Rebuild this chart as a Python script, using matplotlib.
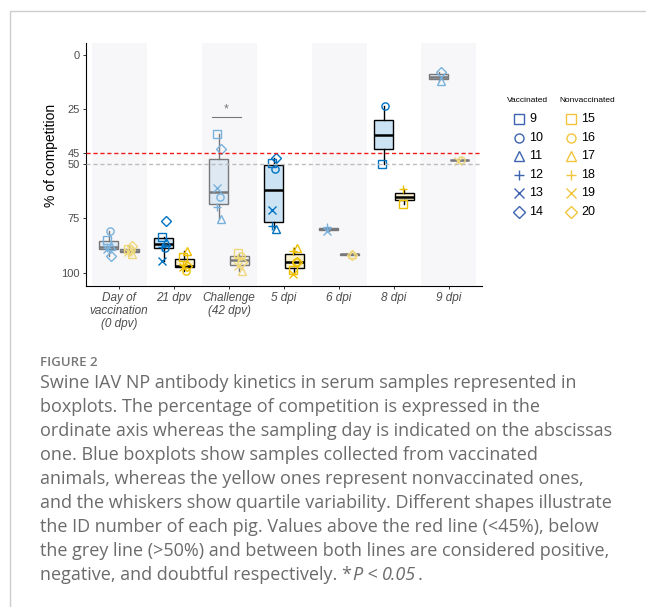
import numpy as np
import matplotlib
matplotlib.use("Agg")
import matplotlib.pyplot as plt
from matplotlib.lines import Line2D
from matplotlib.patches import Rectangle

nan = np.nan

# Sampling days (x categories)
days = ["Day of\nvaccination\n(0 dpv)", "21 dpv", "Challenge\n(42 dpv)",
        "5 dpi", "6 dpi", "8 dpi", "9 dpi"]

# Pig IDs and their shapes
vacc_ids = [9, 10, 11, 12, 13, 14]
nonvacc_ids = [15, 16, 17, 18, 19, 20]
shapes = ["s", "o", "^", "+", "x", "D"]

# % of competition per day, one value per pig (in the order of the id lists)
vacc_0dpv = [84.8, 80.7, 87.8, 88.6, 89.0, 92.2]
vacc_21dpv = [83.7, 88.6, 85.7, 88.3, 94.5, 76.3]
vacc_42dpv = [36.1, 65.1, 75.3, 69.7, 61.0, 43.2]
vacc_5dpi = [49.8, 52.5, 80.0, 78.5, 71.2, 47.5]
vacc_6dpi = [nan, nan, nan, 78.8, 80.8, nan]
vacc_8dpi = [50.0, 23.4, nan, nan, nan, nan]
vacc_9dpi = [nan, nan, 11.8, nan, nan, 8.0]

nonvacc_0dpv = [88.9, 89.6, 91.5, 90.8, 90.4, 87.7]
nonvacc_21dpv = [92.7, 99.1, 90.0, 96.6, 97.3, 97.1]
nonvacc_42dpv = [91.0, 92.3, 99.0, 93.3, 97.0, 95.0]
nonvacc_5dpi = [98.8, 94.9, 88.5, 90.0, 100.5, 95.2]
nonvacc_6dpi = [nan, nan, 91.3, nan, nan, 91.8]
nonvacc_8dpi = [68.4, nan, nan, 61.7, nan, nan]
nonvacc_9dpi = [nan, 48.0, nan, nan, 48.6, nan]

vaccinated = [vacc_0dpv, vacc_21dpv, vacc_42dpv, vacc_5dpi,
              vacc_6dpi, vacc_8dpi, vacc_9dpi]
nonvaccinated = [nonvacc_0dpv, nonvacc_21dpv, nonvacc_42dpv, nonvacc_5dpi,
                 nonvacc_6dpi, nonvacc_8dpi, nonvacc_9dpi]

positive_cutoff = 45
negative_cutoff = 50

BLUE = "#0073C2"
YELLOW = "#EFC000"
BLUE_FILL = "#cce3f3"
YELLOW_FILL = "#fcf2cc"
LEG_BLUE = "#3d64b0"
LEG_YELLOW = "#f2c53d"

W, H = 646, 607
plt.rcParams["font.family"] = ["Liberation Sans", "DejaVu Sans"]

fig = plt.figure(figsize=(W / 100, H / 100), dpi=100)


def fx(x):
    return x / W


def fy(y):
    return 1 - y / H


ax = fig.add_axes([fx(86), fy(286), (482 - 86) / W, (286 - 42.7) / H])

jitter = [-0.03, 0.02, 0.04, -0.03, -0.02, 0.05]
dodge = 0.19
box_w = 0.36

for i, (vg, ng) in enumerate(zip(vaccinated, nonvaccinated)):
    for vals, off, col, fill in [(vg, -dodge, BLUE, BLUE_FILL),
                                 (ng, dodge, YELLOW, YELLOW_FILL)]:
        arr = np.array(vals, dtype=float)
        ok = ~np.isnan(arr)
        ax.boxplot(arr[ok], positions=[i + off], widths=box_w,
                   showfliers=False, showcaps=False, patch_artist=True,
                   whis=1.5, manage_ticks=False,
                   boxprops=dict(facecolor=fill, edgecolor="black", linewidth=1.0),
                   medianprops=dict(color="black", linewidth=1.8),
                   whiskerprops=dict(color="black", linewidth=1.0),
                   zorder=2)
        for k, v in enumerate(vals):
            if np.isnan(v):
                continue
            ax.plot(i + off + jitter[k], v, linestyle="none", marker=shapes[k],
                    mfc="none", mec=col, ms=5.2 if shapes[k] != "D" else 4.6,
                    mew=1.0, zorder=3)

# Significance mark at challenge
ax.plot([1.69, 2.22], [28.3, 28.3], color="black", lw=0.8, zorder=3)
ax.text(1.955, 25.0, "*", ha="center", va="center", fontsize=9, zorder=3)

# Alternating translucent bands over the days
for i in [0, 2, 4, 6]:
    ax.axvspan(max(i - 0.5, -0.6), i + 0.5, facecolor=(0.94, 0.94, 0.965),
               alpha=0.5, lw=0, zorder=4)

ax.axhline(positive_cutoff, color="#ee1c1c", lw=1.0, ls=(0, (3.0, 2.0)), zorder=5)
ax.axhline(negative_cutoff, color="#bdbdbd", lw=1.0, ls=(0, (3.0, 2.0)), zorder=5)

ax.set_xlim(-0.6, 6.6)
ax.set_ylim(106.1, -5.65)
ax.set_yticks([0, 25, 45, 50, 75, 100])
ax.set_yticklabels(["0", "25", "45", "50", "75", "100"], fontsize=8, color="#4d4d4d")
ax.set_xticks(range(len(days)))
ax.set_xticklabels(days, fontsize=8.5, color="#4d4d4d", style="italic",
                   linespacing=1.1)
ax.tick_params(length=2.5, width=0.7, color="#333333", pad=2)
for s in ["top", "right"]:
    ax.spines[s].set_visible(False)
for s in ["left", "bottom"]:
    ax.spines[s].set_linewidth(0.8)
ax.set_facecolor("white")
ax.set_ylabel("% of competition", fontsize=10, color="black")
ax.yaxis.set_label_coords((58 - 86) / (482 - 86), (286 - 155) / (286 - 42.7))

# Legend (two columns)
fig.text(fx(507), fy(101), "Vaccinated", fontsize=6, va="center", ha="left")
fig.text(fx(559), fy(101), "Nonvaccinated", fontsize=6, va="center", ha="left")
for k in range(6):
    y = 119.3 + k * 18.5
    for mx, tx, col, lab in [(519, 529, LEG_BLUE, vacc_ids[k]),
                             (570.7, 581, LEG_YELLOW, nonvacc_ids[k])]:
        fig.add_artist(Line2D([fx(mx)], [fy(y)], marker=shapes[k], mfc="none",
                              mec=col, ms=6.5 if shapes[k] != "D" else 6,
                              mew=1.0, linestyle="none",
                              transform=fig.transFigure))
        fig.text(fx(tx), fy(y), str(lab), fontsize=9, va="center", ha="left")

# Frame around figure and caption
fig.add_artist(Rectangle((fx(10), -0.2), 2, fy(11) + 0.2, transform=fig.transFigure,
                         fill=False, ec="#cccccc", lw=1.0))

cap_color = "#6b6b6b"
cap_size = 13
fig.text(fx(40), fy(362), "FIGURE 2", fontsize=9.5, color="#777777",
         family="Open Sans", weight="semibold", va="center", ha="left")
caption = [
    "Swine IAV NP antibody kinetics in serum samples represented in",
    "boxplots. The percentage of competition is expressed in the",
    "ordinate axis whereas the sampling day is indicated on the abscissas",
    "one. Blue boxplots show samples collected from vaccinated",
    "animals, whereas the yellow ones represent nonvaccinated ones,",
    "and the whiskers show quartile variability. Different shapes illustrate",
    "the ID number of each pig. Values above the red line (<45%), below",
    "the grey line (>50%) and between both lines are considered positive,",
]
for j, line in enumerate(caption):
    fig.text(fx(40), fy(383 + 24 * j), line, fontsize=cap_size, color=cap_color,
             family="Open Sans", va="center", ha="left")

# Last caption line with an italic P value; each piece starts where the
# upright text of everything before it would end
renderer = fig.canvas.get_renderer()
last_y = fy(383 + 24 * len(caption))
pieces = [("negative, and doubtful respectively. *", "normal"), ("P", "italic"),
          (" < ", "normal"), ("0.05", "italic"), (".", "normal")]
prefix = ""
for txt, style in pieces:
    probe = fig.text(0, 0, prefix + "|", fontsize=cap_size, family="Open Sans")
    bar = fig.text(0, 0, "|", fontsize=cap_size, family="Open Sans")
    width = (probe.get_window_extent(renderer=renderer).width
             - bar.get_window_extent(renderer=renderer).width) if prefix else 0.0
    probe.remove()
    bar.remove()
    fig.text(fx(40) + width / W, last_y, txt, fontsize=cap_size, color=cap_color,
             family="Open Sans", style=style, va="center", ha="left")
    prefix += txt

fig.savefig("out.png", dpi=100, facecolor="white")
